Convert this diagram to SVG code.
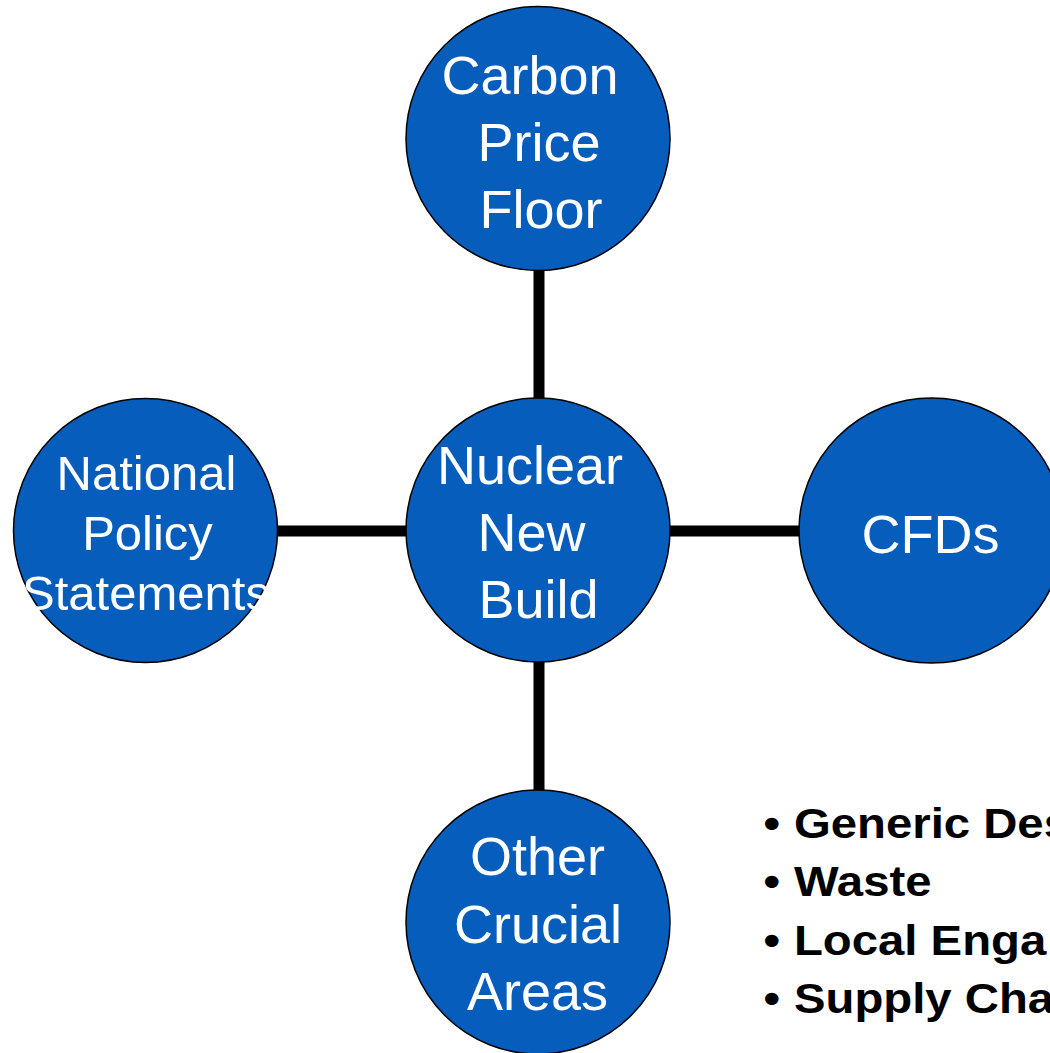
<svg xmlns="http://www.w3.org/2000/svg" width="1050" height="1053" viewBox="0 0 1050 1053">
<style>
.node{fill:#065DBC;stroke:#000;stroke-width:1.5}
.lbl{fill:#fff;font-family:"Liberation Sans",Arial,sans-serif;font-size:54px;text-anchor:middle}
.lbl2{fill:#fff;font-family:"Liberation Sans",Arial,sans-serif;font-size:49px;text-anchor:middle}
.conn{stroke:#000;stroke-width:11;fill:none}
.bul{fill:#000;font-family:"Liberation Sans",Arial,sans-serif;font-size:43px;font-weight:bold}
</style>
<rect width="1050" height="1053" fill="#fff"/>
<g id="connectors">
<line class="conn" x1="539" y1="268" x2="539" y2="399"/>
<line class="conn" x1="539" y1="661" x2="539" y2="792"/>
<line class="conn" x1="275" y1="531" x2="409" y2="531"/>
<line class="conn" x1="667" y1="531" x2="801" y2="531"/>
</g>
<g id="carbon">
<circle class="node" cx="538" cy="138.5" r="132"/>
<text class="lbl" x="530" y="94">Carbon</text>
<text class="lbl" x="539" y="161">Price</text>
<text class="lbl" x="541" y="228">Floor</text>
</g>
<g id="nuclear">
<circle class="node" cx="538" cy="530" r="132"/>
<text class="lbl" x="530" y="484">Nuclear</text>
<text class="lbl" x="531.5" y="551">New</text>
<text class="lbl" x="538.5" y="618">Build</text>
</g>
<g id="nps">
<circle class="node" cx="145.5" cy="530.5" r="132"/>
<text class="lbl2" x="146.5" y="490">National</text>
<text class="lbl2" x="147.5" y="550">Policy</text>
<text class="lbl2" x="146" y="610">Statements</text>
</g>
<g id="cfds">
<circle class="node" cx="931.5" cy="530.5" r="132.5"/>
<text class="lbl" x="930.5" y="553">CFDs</text>
</g>
<g id="other">
<circle class="node" cx="538" cy="922" r="132"/>
<text class="lbl" x="537.5" y="875">Other</text>
<text class="lbl" x="538" y="943">Crucial</text>
<text class="lbl" x="537.5" y="1010">Areas</text>
</g>
<g id="bullets" transform="scale(1.1 1)">
<text class="bul" x="694" y="838">•</text><text class="bul" x="721.8" y="838">Generic Des</text>
<text class="bul" x="694" y="896">•</text><text class="bul" x="721.8" y="896">Waste</text>
<text class="bul" x="694" y="955">•</text><text class="bul" x="721.8" y="955">Local Enga</text>
<text class="bul" x="694" y="1013">•</text><text class="bul" x="721.8" y="1013">Supply Cha</text>
</g>
</svg>
